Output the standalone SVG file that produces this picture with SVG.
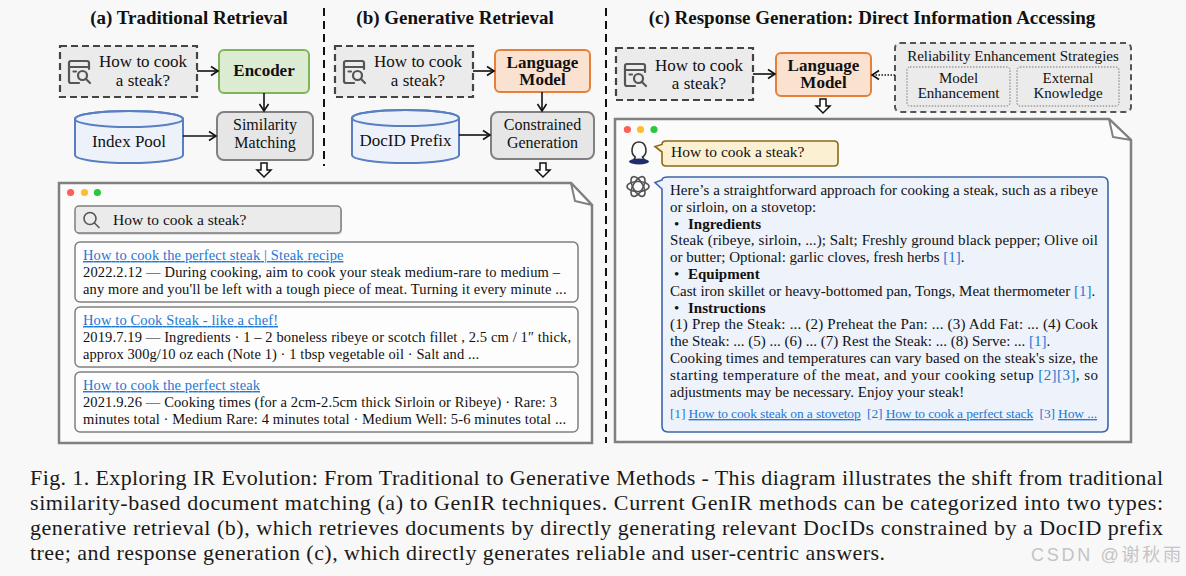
<svg xmlns="http://www.w3.org/2000/svg" width="1186" height="576" viewBox="0 0 1186 576">
<style>
.t{font-family:"Liberation Serif","Times New Roman",serif;fill:#111}
.title{font-size:19px;font-weight:bold;text-anchor:middle}
.q{font-size:17px;text-anchor:middle}
.b{font-size:17px;font-weight:bold;text-anchor:middle}
.n{font-size:17px;text-anchor:middle}
.n2{font-size:16px;text-anchor:middle}
.r{font-size:14.5px}
.a{font-size:15px}
.ref{font-size:13.5px}
.lk{fill:#1f78d1}
.u{text-decoration:underline}
.cap{font-family:"Liberation Serif","Times New Roman",serif;font-size:22px;fill:#1a1a1a}
.qbox{fill:#ebebeb;stroke:#444;stroke-width:2.2;stroke-dasharray:7 4}
.lm{fill:#fae1d0;stroke:#e5803a;stroke-width:2}
.enc{fill:#dcecd3;stroke:#7db65a;stroke-width:2}
.gray{fill:#e6e6e6;stroke:#808080;stroke-width:2}
.cyl{fill:#edf1fa;stroke:#5a7ec2;stroke-width:2}
.win{fill:#fbfbfb;stroke:#808080;stroke-width:2.5}
.flap{fill:#fff;stroke:#808080;stroke-width:2;stroke-linejoin:round}
.res{fill:#fdfdfd;stroke:#808080;stroke-width:1.5}
.con{stroke:#111;stroke-width:1.6;fill:none}
.hol{fill:#fff;stroke:#111;stroke-width:1.5;stroke-linejoin:miter}
.sep{stroke:#111;stroke-width:2;stroke-dasharray:8 5}
.ic{fill:none;stroke:#555;stroke-width:2.2;stroke-linecap:round;stroke-linejoin:round}
</style>
<defs>
<marker id="ah" markerUnits="userSpaceOnUse" markerWidth="12" markerHeight="12" refX="9" refY="6" orient="auto">
<path d="M2,1.5 L9,6 L2,10.5" fill="none" stroke="#111" stroke-width="1.6"/>
</marker>
<symbol id="qicon" viewBox="0 0 26 26">
<path class="ic" d="M12,24 H4 Q2,24 2,22 V4 Q2,2 4,2 H20 Q22,2 22,4 V10"/>
<path class="ic" d="M2,8 H22 M6.5,12.5 H9"/>
<circle class="ic" cx="15.5" cy="16.5" r="4.5"/>
<path class="ic" d="M19,20 L23,24"/>
</symbol>
</defs>
<rect width="1186" height="576" fill="#f8f8f8"/>

<!-- titles -->
<text class="t title" x="189" y="24">(a) Traditional Retrieval</text>
<text class="t title" x="455" y="24">(b) Generative Retrieval</text>
<text class="t title" x="872" y="24">(c) Response Generation: Direct Information Accessing</text>

<g id="separators">
<line class="sep" x1="324" y1="8" x2="324" y2="166"/>
<line class="sep" x1="606" y1="8" x2="606" y2="443"/>
</g>

<!-- (a) -->
<g id="a-query">
<rect class="qbox" x="60" y="46" width="137" height="51"/>
<use href="#qicon" x="67" y="59" width="26" height="26"/>
<text class="t q" x="143" y="67">How to cook</text>
<text class="t q" x="143" y="86">a steak?</text>
</g>
<g id="a-encoder">
<rect class="enc" x="219" y="50" width="90" height="43" rx="5"/>
<text class="t b" x="264" y="76">Encoder</text>
</g>
<g id="a-index">
<path class="cyl" d="M75,119 A54,8 0 0 1 183,119 V155 A54,8 0 0 1 75,155 Z"/>
<ellipse cx="129" cy="119" rx="54" ry="8" fill="none" stroke="#5a7ec2" stroke-width="2"/>
<text class="t n" x="129" y="147">Index Pool</text>
</g>
<g id="a-sim">
<rect class="gray" x="217" y="112" width="96" height="48" rx="7"/>
<text class="t n2" x="265" y="130">Similarity</text>
<text class="t n2" x="265" y="147.5">Matching</text>
</g>

<!-- (b) -->
<g id="b-query">
<rect class="qbox" x="335" y="46" width="138" height="51"/>
<use href="#qicon" x="342" y="59" width="26" height="26"/>
<text class="t q" x="418" y="67">How to cook</text>
<text class="t q" x="418" y="86">a steak?</text>
</g>
<g id="b-lm">
<rect class="lm" x="495" y="50" width="95" height="42" rx="5"/>
<text class="t b" x="542.5" y="68">Language</text>
<text class="t b" x="542.5" y="85">Model</text>
</g>
<g id="b-docid">
<path class="cyl" d="M352,118 A53.5,8 0 0 1 459,118 V155 A53.5,8 0 0 1 352,155 Z"/>
<ellipse cx="405.5" cy="118" rx="53.5" ry="8" fill="none" stroke="#5a7ec2" stroke-width="2"/>
<text class="t n" x="405.5" y="146">DocID Prefix</text>
</g>
<g id="b-cons">
<rect class="gray" x="491" y="112" width="103" height="47" rx="7"/>
<text class="t n2" x="542.5" y="130">Constrained</text>
<text class="t n2" x="542.5" y="147.5">Generation</text>
</g>

<!-- (c) -->
<g id="c-query">
<rect class="qbox" x="616" y="48" width="137" height="52"/>
<use href="#qicon" x="623" y="62" width="26" height="26"/>
<text class="t q" x="699" y="70.5">How to cook</text>
<text class="t q" x="699" y="89">a steak?</text>
</g>
<g id="c-lm">
<rect class="lm" x="776" y="53" width="95" height="43" rx="5"/>
<text class="t b" x="823.5" y="71">Language</text>
<text class="t b" x="823.5" y="88">Model</text>
</g>
<g id="c-rel">
<rect x="895" y="43" width="236" height="69" rx="5" fill="#ebebeb" stroke="#555" stroke-width="2" stroke-dasharray="6 4"/>
<text class="t" x="1013" y="61" font-size="15" text-anchor="middle">Reliability Enhancement Strategies</text>
<rect x="907" y="67" width="103" height="39" rx="3" fill="#ebebeb" stroke="#777" stroke-width="1" stroke-dasharray="1.5 1.5"/>
<rect x="1017" y="67" width="102" height="39" rx="3" fill="#ebebeb" stroke="#777" stroke-width="1" stroke-dasharray="1.5 1.5"/>
<text class="t" x="958.5" y="83" font-size="15" text-anchor="middle">Model</text>
<text class="t" x="958.5" y="98" font-size="15" text-anchor="middle">Enhancement</text>
<text class="t" x="1068" y="83" font-size="15" text-anchor="middle">External</text>
<text class="t" x="1068" y="98" font-size="15" text-anchor="middle">Knowledge</text>
</g>

<g id="connectors">
<line class="con" x1="197" y1="71" x2="218" y2="71" marker-end="url(#ah)"/>
<line class="con" x1="264" y1="93" x2="264" y2="111" marker-end="url(#ah)"/>
<line class="con" x1="183" y1="136" x2="216" y2="136" marker-end="url(#ah)"/>
<line class="con" x1="473" y1="71" x2="494" y2="71" marker-end="url(#ah)"/>
<line class="con" x1="542" y1="92" x2="542" y2="111" marker-end="url(#ah)"/>
<line class="con" x1="459" y1="135" x2="490" y2="135" marker-end="url(#ah)"/>
<line class="con" x1="753" y1="74" x2="775" y2="74" marker-end="url(#ah)"/>
<line class="con" x1="895" y1="75" x2="872" y2="75" stroke-dasharray="1.5 1.5" marker-end="url(#ah)"/>
<path class="hol" d="M261,163 H267 V170 H271 L264,177 L257,170 H261 Z"/>
<path class="hol" d="M540,163 H546 V170 H550 L543,177 L536,170 H540 Z"/>
<path class="hol" d="M820,99 H826 V106 H830 L823,113 L816,106 H820 Z"/>
</g>

<!-- (a)/(b) result window -->
<g id="search-window">
<path class="win" d="M59,183 H571 L592,205 V443 H59 Z"/>
<path class="flap" d="M571,183 L575,201 L592,205 Z"/>
<circle cx="70.6" cy="192.5" r="3.6" fill="#fe5f57"/>
<circle cx="84.5" cy="192.5" r="3.6" fill="#febc2e"/>
<circle cx="97.4" cy="192.5" r="3.6" fill="#28c840"/>
<rect x="76" y="207.5" width="266" height="27" rx="4" fill="#c9c9c9"/>
<rect x="75" y="206" width="266" height="27" rx="4" fill="#ebebeb" stroke="#7f7f7f" stroke-width="1.5"/>
<circle cx="90" cy="218.5" r="6" fill="none" stroke="#555" stroke-width="1.6"/>
<line x1="94.5" y1="223" x2="99" y2="227.5" stroke="#555" stroke-width="1.6" stroke-linecap="round"/>
<text class="t" x="113" y="225" font-size="15.5">How to cook a steak?</text>

<rect class="res" x="75" y="242" width="503" height="60" rx="5"/>
<text class="t r lk u" x="83" y="260" textLength="260.5">How to cook the perfect steak | Steak recipe</text>
<text class="t r" x="83" y="277" textLength="477">2022.2.12 — During cooking, aim to cook your steak medium-rare to medium –</text>
<text class="t r" x="83" y="294" textLength="483.5">any more and you'll be left with a tough piece of meat. Turning it every minute ...</text>

<rect class="res" x="75" y="307" width="503" height="60" rx="5"/>
<text class="t r lk u" x="83" y="325" textLength="195">How to Cook Steak - like a chef!</text>
<text class="t r" x="83" y="342" textLength="488">2019.7.19 — Ingredients · 1 – 2 boneless ribeye or scotch fillet , 2.5 cm / 1″ thick,</text>
<text class="t r" x="83" y="359" textLength="396">approx 300g/10 oz each (Note 1) · 1 tbsp vegetable oil · Salt and ...</text>

<rect class="res" x="75" y="372" width="503" height="60" rx="5"/>
<text class="t r lk u" x="83" y="390" textLength="177">How to cook the perfect steak</text>
<text class="t r" x="83" y="407" textLength="474">2021.9.26 — Cooking times (for a 2cm-2.5cm thick Sirloin or Ribeye) · Rare: 3</text>
<text class="t r" x="83" y="424" textLength="483">minutes total · Medium Rare: 4 minutes total · Medium Well: 5-6 minutes total ...</text>
</g>

<!-- (c) chat window -->
<g id="chat-window">
<path class="win" d="M615,119 H1109 L1131,140 V442 H615 Z"/>
<path class="flap" d="M1109,119 L1113,137 L1131,140 Z"/>
<circle cx="627.4" cy="129.5" r="3.6" fill="#fe5f57"/>
<circle cx="640.5" cy="129.5" r="3.6" fill="#febc2e"/>
<circle cx="654" cy="129.5" r="3.6" fill="#28c840"/>

<g id="user-icon">
<path d="M635.5,157 C630,154 631,142 639,142 C647,142 648,154 642.5,157 L645,161" fill="none" stroke="#333" stroke-width="1.6"/>
<path d="M635.5,157 L633,161" fill="none" stroke="#333" stroke-width="1.6"/>
<ellipse cx="639" cy="161.5" rx="10" ry="3" fill="#1f2d6b"/>
</g>
<path d="M666,141 H834 Q838,141 838,145 V162 Q838,166 834,166 H666 Q662,166 662,162 V152 L655,146.5 L662,144.5 Q662,141 666,141 Z" fill="#fcf0d2" stroke="#8c6a12" stroke-width="1.6"/>
<text class="t" x="671" y="157" font-size="15.5">How to cook a steak?</text>

<g id="gpt-icon" fill="none" stroke="#555" stroke-width="1.6">
<ellipse cx="638" cy="186.5" rx="11" ry="5" />
<ellipse cx="638" cy="186.5" rx="11" ry="5" transform="rotate(60 638 186.5)"/>
<ellipse cx="638" cy="186.5" rx="11" ry="5" transform="rotate(120 638 186.5)"/>
</g>
<path d="M668,177 H1102 Q1108,177 1108,183 V426 Q1108,432 1102,432 H668 Q662,432 662,426 V189 L655,182.5 L662,180 Q662,177 668,177 Z" fill="#eef2fb" stroke="#3f65a8" stroke-width="1.6"/>

<text class="t a" x="670" y="195" textLength="428">Here’s a straightforward approach for cooking a steak, such as a ribeye</text>
<text class="t a" x="670" y="211.8">or sirloin, on a stovetop:</text>
<text class="t a" x="674" y="228.6">•</text>
<text class="t a" x="688" y="228.6" font-weight="bold">Ingredients</text>
<text class="t a" x="670" y="245.4" textLength="428">Steak (ribeye, sirloin, ...); Salt; Freshly ground black pepper; Olive oil</text>
<text class="t a" x="670" y="262.2">or butter; Optional: garlic cloves, fresh herbs <tspan class="lk">[1]</tspan>.</text>
<text class="t a" x="674" y="279">•</text>
<text class="t a" x="688" y="279" font-weight="bold">Equipment</text>
<text class="t a" x="670" y="295.8">Cast iron skillet or heavy-bottomed pan, Tongs, Meat thermometer <tspan class="lk">[1]</tspan>.</text>
<text class="t a" x="674" y="312.6">•</text>
<text class="t a" x="688" y="312.6" font-weight="bold">Instructions</text>
<text class="t a" x="670" y="329.4" textLength="428">(1) Prep the Steak: ... (2) Preheat the Pan: ... (3) Add Fat: ... (4) Cook</text>
<text class="t a" x="670" y="346.2">the Steak: ... (5) ... (6) ... (7) Rest the Steak: ... (8) Serve: ... <tspan class="lk">[1]</tspan>.</text>
<text class="t a" x="670" y="363" textLength="428">Cooking times and temperatures can vary based on the steak's size, the</text>
<text class="t a" x="670" y="379.8" textLength="428">starting temperature of the meat, and your cooking setup <tspan class="lk">[2][3]</tspan>, so</text>
<text class="t a" x="670" y="396.6">adjustments may be necessary. Enjoy your steak!</text>
<text class="t ref lk" x="670" y="418" textLength="427">[1] <tspan class="u">How to cook steak on a stovetop</tspan>&#160; [2] <tspan class="u">How to cook a perfect stack</tspan>&#160; [3] <tspan class="u">How ...</tspan></text>
</g>

<!-- caption -->
<g id="caption">
<text class="cap" x="30" y="485" textLength="1133">Fig. 1. Exploring IR Evolution: From Traditional to Generative Methods - This diagram illustrates the shift from traditional</text>
<text class="cap" x="30" y="509.5" textLength="1133">similarity-based document matching (a) to GenIR techniques. Current GenIR methods can be categorized into two types:</text>
<text class="cap" x="30" y="534.5" textLength="1133">generative retrieval (b), which retrieves documents by directly generating relevant DocIDs constrained by a DocID prefix</text>
<text class="cap" x="30" y="559.5" textLength="855">tree; and response generation (c), which directly generates reliable and user-centric answers.</text>
</g>
<text x="1031" y="561" font-family="'Liberation Sans','Noto Sans CJK SC',sans-serif" font-size="18" fill="#c4c4c4" textLength="150">CSDN @谢秋雨</text>
</svg>
